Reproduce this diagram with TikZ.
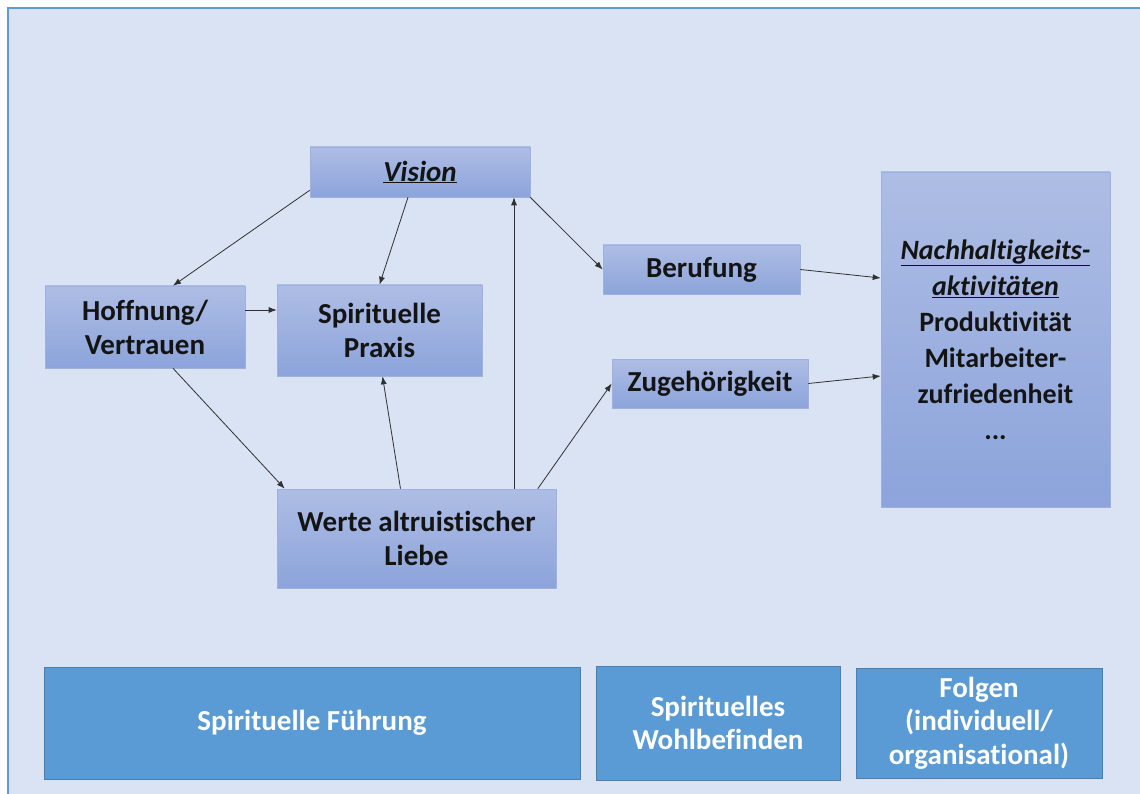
\documentclass[tikz,border=0pt]{standalone}
\usepackage{fontspec}
\setmainfont{Carlito}[Ligatures=NoCommon]
\usetikzlibrary{arrows.meta}
\definecolor{pagebg}{HTML}{DAE3F3}
\definecolor{frameblue}{HTML}{5B9BD5}
\definecolor{boxtop}{HTML}{AEBDE4}
\definecolor{boxbot}{HTML}{8CA4DB}
\definecolor{boxline}{HTML}{9CB1E0}
\definecolor{basefill}{HTML}{5B9BD5}
\definecolor{baseline}{HTML}{4A7EB0}
\definecolor{ink}{HTML}{141414}
\definecolor{arrowink}{HTML}{303030}
\tikzset{
  midbox/.style={rectangle, top color=boxtop, bottom color=boxbot, draw=boxline,
    line width=0.6pt, inner sep=0pt, align=center, text=ink,
    font=\fontsize{29}{34}\selectfont\bfseries},
  basebox/.style={rectangle, fill=basefill, draw=baseline, line width=0.8pt,
    inner sep=0pt, align=center, text=white,
    font=\fontsize{29}{33.5}\selectfont\bfseries},
  link/.style={draw=arrowink, line width=0.8pt, -{Latex[length=8pt,width=6pt]}}
}
\begin{document}
\begin{tikzpicture}[x=1pt,y=-1pt]
  \useasboundingbox (0,0) rectangle (1140,794);
  \fill[white] (0,0) rectangle (1140,794);
  \draw[fill=pagebg, draw=frameblue, line width=1.5pt] (8,8) rectangle (1160,820);

  % upper model
  \node[midbox, minimum width=220pt, minimum height=50pt] (vision) at (420,172)
    {\itshape\underline{Vision}};
  \node[midbox, minimum width=200pt, minimum height=82pt] (hoff) at (145,327)
    {Hoffnung/\\Vertrauen};
  \node[midbox, minimum width=205pt, minimum height=91pt] (praxis) at (379.5,330.5)
    {Spirituelle\\Praxis};
  \node[midbox, minimum width=279pt, minimum height=99pt] (werte) at (416.5,538.5)
    {Werte altruistischer\\Liebe};
  \node[midbox, minimum width=197pt, minimum height=49pt] (beruf) at (701.5,269.5)
    {Berufung};
  \node[midbox, minimum width=196pt, minimum height=49pt] (zuge) at (710,383.5)
    {Zugehörigkeit};
  \node[midbox, minimum width=229pt, minimum height=335pt,
        font=\fontsize{28}{36}\selectfont\bfseries] (nach) at (995.5,339.5)
    {{\itshape\underline{Nachhaltigkeits-}}\\{\itshape\underline{aktivitäten}}\\Produktivität\\Mitarbeiter-\\zufriedenheit\\...};

  % category bar
  \node[basebox, minimum width=536pt, minimum height=112pt] (sf) at (312,723)
    {Spirituelle Führung};
  \node[basebox, minimum width=244pt, minimum height=114pt] (sw) at (718,723)
    {Spirituelles\\Wohlbefinden};
  \node[basebox, minimum width=246pt, minimum height=110pt] (fo) at (979,723)
    {Folgen\\(individuell/\\organisational)};

  % connectors
  \draw[link] ([yshift=7pt]vision.south west) -- ([xshift=28pt]hoff.north);
  \draw[link] ([xshift=-12pt]vision.south) -- (praxis.north);
  \draw[link] ([yshift=17pt]hoff.east) -- ([yshift=17pt]hoff.east -| praxis.west);
  \draw[link] ([xshift=28pt]hoff.south) -- ([xshift=8pt]werte.north west);
  \draw[link] ([xshift=-16pt]werte.north) -- ([xshift=3pt]praxis.south);
  \coordinate (wv) at ([xshift=97.5pt]werte.north);
  \draw[link] (wv) -- (wv |- vision.south);
  \draw[link] ([xshift=-18.5pt]werte.north east) -- (zuge.west);
  \draw[link] (vision.south east) -- (beruf.west);
  \draw[link] (beruf.east) -- ([yshift=61.5pt]nach.west);
  \draw[link] (zuge.east) -- ([yshift=-36.5pt]nach.west);
\end{tikzpicture}
\end{document}
